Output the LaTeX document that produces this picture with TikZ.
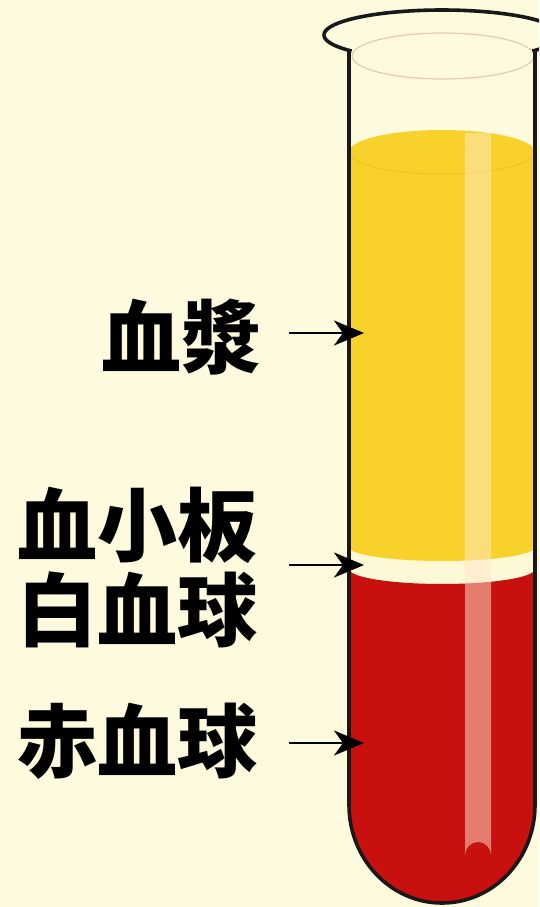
\documentclass[tikz,border=0pt]{standalone}
\usepackage{fontspec}
\newfontfamily\cjk{Noto Sans CJK JP Black}
\usetikzlibrary{arrows.meta}
\definecolor{paper}{RGB}{253,250,222}
\definecolor{plasma}{RGB}{248,210,42}
\definecolor{plasmaedge}{RGB}{236,190,40}
\definecolor{buffy}{RGB}{253,248,214}
\definecolor{redcell}{RGB}{200,16,14}
\definecolor{rimglass}{RGB}{236,200,180}
\definecolor{sheen}{RGB}{255,232,205}
\tikzset{
  lbl/.style={font=\cjk\fontsize{80}{85}\selectfont, inner sep=0pt, align=right, anchor=east},
  pointer/.style={line width=2.8pt, -{Stealth[length=30pt,width=25pt,inset=9pt]}},
  glass/.style={line width=3.6pt, draw=black!90, line join=round},
}
\begin{document}
\begin{tikzpicture}[x=1pt,y=-1pt]
\useasboundingbox (0,0) rectangle (539,907);
\clip (0,0) rectangle (539,907);
\fill[paper] (0,0) rectangle (539,907);

% cream band / interior below the plasma
\fill[buffy] (349,540) -- (349,805) arc[start angle=180,end angle=360,x radius=93,y radius=-98] -- (535,540) -- cycle;

% red cells
\fill[redcell] plot[domain=0:180,samples=40] ({442+93*cos(\x)},{569+15*sin(\x)})
  -- (349,805) arc[start angle=180,end angle=360,x radius=93,y radius=-98] -- cycle;

% plasma
\fill[plasma] plot[domain=180:360,samples=40] ({442+93*cos(\x)},{152+22*sin(\x)})
  -- plot[domain=0:180,samples=40] ({442+93*cos(\x)},{547+14*sin(\x)}) -- cycle;
\draw[plasmaedge, line width=0.8pt] plot[domain=0:180,samples=40] ({442+93*cos(\x)},{152+22*sin(\x)});

% highlight stripe on the liquid
\fill[sheen, opacity=0.5] (465,133) -- (465,855) arc[start angle=180,end angle=360,radius=13] -- (491,133) -- cycle;

% inner lip of the rim
\draw[rimglass, line width=1.2pt] (443,56) ellipse[x radius=91, y radius=23];

% glass outline: rim and walls
\draw[glass] plot[domain=140:400,samples=80] ({442+118*cos(\x)},{35+25*sin(\x)});
\draw[glass] (349,50) -- (349,805) arc[start angle=180,end angle=360,x radius=93,y radius=-98] -- (535,50);

% labels
\node[lbl] (plasmaLbl) at (262,337) {血漿};
\node[lbl] (buffyLbl) at (258,568) {血小板\\白血球};
\node[lbl] (redLbl) at (258,741) {赤血球};

\coordinate (plasmaTip) at (364,333);
\coordinate (buffyTip) at (364,565);
\coordinate (redTip) at (364,743);

\draw[pointer, shorten <=27pt] (plasmaLbl.east |- plasmaTip) -- (plasmaTip);
\draw[pointer, shorten <=31pt] (buffyLbl.east |- buffyTip) -- (buffyTip);
\draw[pointer, shorten <=31pt] (redLbl.east |- redTip) -- (redTip);
\end{tikzpicture}
\end{document}
